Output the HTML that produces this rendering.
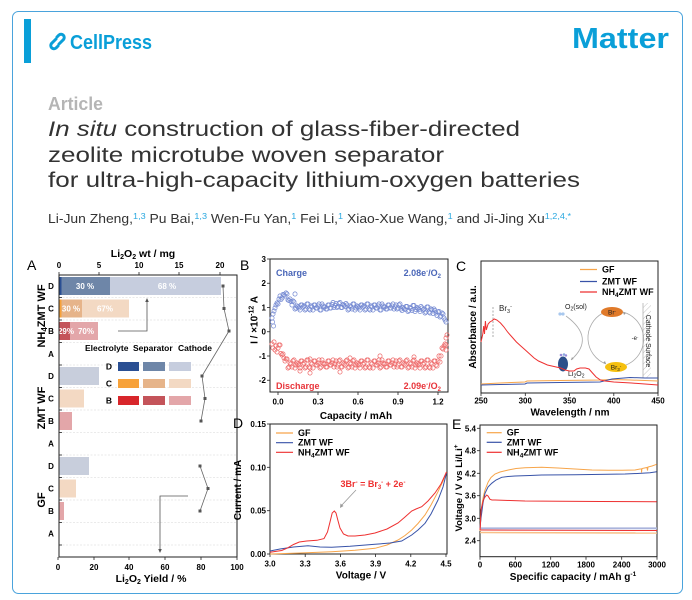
<!DOCTYPE html>
<html><head><meta charset="utf-8">
<style>
html,body{margin:0;padding:0;background:#fff;}
svg{display:block;}
text{font-family:"Liberation Sans",Arial,sans-serif;}
.b{font-weight:bold;}
</style></head><body>
<svg width="692" height="600" viewBox="0 0 692 600" xmlns="http://www.w3.org/2000/svg">
<defs>
<marker id="mb" markerWidth="6" markerHeight="6" refX="3" refY="3" markerUnits="userSpaceOnUse"><circle cx="3" cy="3" r="2.1" fill="none" stroke="#7489d2" stroke-width="0.7"/></marker>
<marker id="mr" markerWidth="6" markerHeight="6" refX="3" refY="3" markerUnits="userSpaceOnUse"><circle cx="3" cy="3" r="2.1" fill="none" stroke="#ee6b6b" stroke-width="0.7"/></marker>
<pattern id="hatch" width="4" height="4" patternUnits="userSpaceOnUse" patternTransform="rotate(45)"><line x1="0" y1="0" x2="0" y2="4" stroke="#999" stroke-width="0.6"/></pattern>
</defs>

<!-- frame & header -->
<rect x="12.5" y="11.5" width="670" height="582" rx="6" fill="none" stroke="#4aa3dc" stroke-width="1"/>
<rect x="24" y="19" width="7" height="44" fill="#0a9fd8"/>
<g fill="none" stroke="#0a9fd8" stroke-width="3" stroke-linecap="round">
<path d="M56 39 L51.5 43.5 A3.2 3.2 0 0 0 56 48 L58 46"/>
<path d="M59 44 L63.5 39.5 A3.2 3.2 0 0 0 59 35 L57 37"/>
</g>
<text x="70" y="49" font-size="20" class="b" fill="#0a9fd8" textLength="82" lengthAdjust="spacingAndGlyphs">CellPress</text>
<text x="572" y="48" font-size="29" class="b" fill="#0a9fd8" textLength="97" lengthAdjust="spacingAndGlyphs">Matter</text>

<text x="48" y="110" font-size="18" class="b" fill="#b5b5b5" textLength="55" lengthAdjust="spacingAndGlyphs">Article</text>
<text x="48" y="136" font-size="21" fill="#333" textLength="472" lengthAdjust="spacingAndGlyphs"><tspan font-style="italic">In situ</tspan> construction of glass-fiber-directed</text>
<text x="48" y="162" font-size="21" fill="#333" textLength="396" lengthAdjust="spacingAndGlyphs">zeolite microtube woven separator</text>
<text x="48" y="187" font-size="21" fill="#333" textLength="532" lengthAdjust="spacingAndGlyphs">for ultra-high-capacity lithium-oxygen batteries</text>
<text x="48" y="223" font-size="13" fill="#333" textLength="523" lengthAdjust="spacingAndGlyphs">Li-Jun Zheng,<tspan font-size="8.5" fill="#29a8e0" dy="-4">1,3</tspan><tspan dy="4"> Pu Bai,</tspan><tspan font-size="8.5" fill="#29a8e0" dy="-4">1,3</tspan><tspan dy="4"> Wen-Fu Yan,</tspan><tspan font-size="8.5" fill="#29a8e0" dy="-4">1</tspan><tspan dy="4"> Fei Li,</tspan><tspan font-size="8.5" fill="#29a8e0" dy="-4">1</tspan><tspan dy="4"> Xiao-Xue Wang,</tspan><tspan font-size="8.5" fill="#29a8e0" dy="-4">1</tspan><tspan dy="4"> and Ji-Jing Xu</tspan><tspan font-size="8.5" fill="#29a8e0" dy="-4">1,2,4,*</tspan></text>

<!-- ================= Panel A ================= -->
<text x="27" y="270" font-size="14">A</text>
<text x="143" y="257" font-size="10.5" class="b" text-anchor="middle">Li<tspan font-size="7" dy="2">2</tspan><tspan dy="-2">O</tspan><tspan font-size="7" dy="2">2</tspan><tspan dy="-2"> wt / mg</tspan></text>
<g font-size="8" class="b" text-anchor="middle">
<text x="59" y="268">0</text><text x="99" y="268">5</text><text x="139" y="268">10</text><text x="179" y="268">15</text><text x="220" y="268">20</text>
</g>
<g stroke="#d6d6d6" stroke-width="0.6" stroke-dasharray="2,1.5">
<line x1="59" y1="297.5" x2="237" y2="297.5"/><line x1="59" y1="320" x2="237" y2="320"/><line x1="59" y1="342.5" x2="237" y2="342.5"/><line x1="59" y1="365" x2="237" y2="365"/><line x1="59" y1="387.5" x2="237" y2="387.5"/><line x1="59" y1="410" x2="237" y2="410"/><line x1="59" y1="432.5" x2="237" y2="432.5"/><line x1="59" y1="455" x2="237" y2="455"/><line x1="59" y1="477.5" x2="237" y2="477.5"/><line x1="59" y1="500" x2="237" y2="500"/><line x1="59" y1="522.5" x2="237" y2="522.5"/><line x1="59" y1="545" x2="237" y2="545"/>
</g>
<rect x="59" y="277" width="2.5" height="18" fill="#2a4f93"/>
<rect x="61.5" y="277" width="48.5" height="18" fill="#6e86a8"/>
<rect x="110" y="277" width="111" height="18" fill="#c6cdde"/>
<rect x="59" y="299.5" width="2.5" height="18" fill="#f7a23a"/>
<rect x="61.5" y="299.5" width="20.5" height="18" fill="#e6b48a"/>
<rect x="82" y="299.5" width="47" height="18" fill="#f3d9c3"/>
<rect x="59" y="322" width="11" height="18" fill="#c4545a"/>
<rect x="70" y="322" width="28" height="18" fill="#e3a6a9"/>
<rect x="59" y="367" width="40" height="18" fill="#c8cedc"/>
<rect x="59" y="389.5" width="25" height="18" fill="#f3d9c3"/>
<rect x="59" y="412" width="13" height="18" fill="#e3a6a9"/>
<rect x="59" y="457" width="30" height="18" fill="#c8cedc"/>
<rect x="59" y="479.5" width="17" height="18" fill="#f3d9c3"/>
<rect x="59" y="502" width="5" height="18" fill="#e3a6a9"/>
<g font-size="8" class="b" fill="#fff" text-anchor="middle">
<text x="85" y="289">30 %</text><text x="167" y="289">68 %</text>
<text x="71" y="311.5">30 %</text><text x="105" y="311.5">67%</text>
<text x="66" y="334">29%</text><text x="86" y="334">70%</text>
</g>
<rect x="59" y="275" width="178" height="282" fill="none" stroke="#222" stroke-width="1"/>
<g stroke="#222" stroke-width="0.8">
<line x1="59" y1="272" x2="59" y2="275"/><line x1="99" y1="272" x2="99" y2="275"/><line x1="139" y1="272" x2="139" y2="275"/><line x1="179" y1="272" x2="179" y2="275"/><line x1="220" y1="272" x2="220" y2="275"/>
<line x1="58" y1="557" x2="58" y2="560"/><line x1="94" y1="557" x2="94" y2="560"/><line x1="129" y1="557" x2="129" y2="560"/><line x1="165" y1="557" x2="165" y2="560"/><line x1="201" y1="557" x2="201" y2="560"/><line x1="237" y1="557" x2="237" y2="560"/>
<line x1="59" y1="297.5" x2="62" y2="297.5"/><line x1="59" y1="320" x2="62" y2="320"/><line x1="59" y1="342.5" x2="62" y2="342.5"/><line x1="59" y1="365" x2="62" y2="365"/><line x1="59" y1="387.5" x2="62" y2="387.5"/><line x1="59" y1="410" x2="62" y2="410"/><line x1="59" y1="432.5" x2="62" y2="432.5"/><line x1="59" y1="455" x2="62" y2="455"/><line x1="59" y1="477.5" x2="62" y2="477.5"/><line x1="59" y1="500" x2="62" y2="500"/><line x1="59" y1="522.5" x2="62" y2="522.5"/><line x1="59" y1="545" x2="62" y2="545"/>
</g>
<g font-size="8" class="b" text-anchor="middle">
<text x="51" y="289">D</text><text x="51" y="311.5">C</text><text x="51" y="334">B</text><text x="51" y="357">A</text>
<text x="51" y="379">D</text><text x="51" y="401.5">C</text><text x="51" y="424">B</text><text x="51" y="446.5">A</text>
<text x="51" y="469">D</text><text x="51" y="491.5">C</text><text x="51" y="514">B</text><text x="51" y="536.5">A</text>
</g>
<g font-size="11" class="b" text-anchor="middle">
<text transform="translate(45,316) rotate(-90)">NH<tspan font-size="8" dy="2">4</tspan><tspan dy="-2">ZMT WF</tspan></text>
<text transform="translate(45,408) rotate(-90)">ZMT WF</text>
<text transform="translate(45,500) rotate(-90)">GF</text>
</g>
<g font-size="8" class="b" text-anchor="middle">
<text x="58" y="570">0</text><text x="94" y="570">20</text><text x="129" y="570">40</text><text x="165" y="570">60</text><text x="201" y="570">80</text><text x="237" y="570">100</text>
</g>
<text x="151" y="582" font-size="10.5" class="b" text-anchor="middle">Li<tspan font-size="7" dy="2">2</tspan><tspan dy="-2">O</tspan><tspan font-size="7" dy="2">2</tspan><tspan dy="-2"> Yield / %</tspan></text>
<g font-size="8.5" class="b">
<text x="85" y="351">Electrolyte</text><text x="133" y="351">Separator</text><text x="178" y="351">Cathode</text>
<text x="109" y="369.5" text-anchor="middle">D</text><text x="109" y="386.5" text-anchor="middle">C</text><text x="109" y="403.5" text-anchor="middle">B</text>
</g>
<rect x="118" y="362" width="21" height="9" fill="#2a4f93"/><rect x="143" y="362" width="22" height="9" fill="#6e86a8"/><rect x="169" y="362" width="22" height="9" fill="#c6cdde"/>
<rect x="118" y="379" width="21" height="9" fill="#f7a23a"/><rect x="143" y="379" width="22" height="9" fill="#e6b48a"/><rect x="169" y="379" width="22" height="9" fill="#f3d9c3"/>
<rect x="118" y="396" width="21" height="9" fill="#d8262b"/><rect x="143" y="396" width="22" height="9" fill="#c4545a"/><rect x="169" y="396" width="22" height="9" fill="#e3a6a9"/>
<g fill="none" stroke="#555" stroke-width="0.8">
<polyline points="118,331 147,331 147,301"/>
<polyline points="188,496 160,496 160,550"/>
</g>
<path d="M147 298 l-1.8 4 h3.6z" fill="#555"/>
<path d="M160 553 l-1.8 -4 h3.6z" fill="#555"/>
<g fill="none" stroke="#666" stroke-width="0.8">
<polyline points="223,286 224,308.5 229,331 202,376 205,398.5 201,421"/>
<polyline points="200,466 208,488.5 200,511"/>
</g>
<g fill="#555">
<rect x="221.5" y="284.5" width="3" height="3"/><rect x="222.5" y="307" width="3" height="3"/><rect x="227.5" y="329.5" width="3" height="3"/>
<rect x="200.5" y="374.5" width="3" height="3"/><rect x="203.5" y="397" width="3" height="3"/><rect x="199.5" y="419.5" width="3" height="3"/>
<rect x="198.5" y="464.5" width="3" height="3"/><rect x="206.5" y="487" width="3" height="3"/><rect x="198.5" y="509.5" width="3" height="3"/>
</g>

<!-- ================= Panel B ================= -->
<text x="240" y="270" font-size="14">B</text>
<rect x="270" y="259" width="178" height="133" fill="none" stroke="#222" stroke-width="1"/>
<g stroke="#222" stroke-width="0.8">
<line x1="267" y1="259" x2="270" y2="259"/><line x1="267" y1="283.25" x2="270" y2="283.25"/><line x1="267" y1="307.5" x2="270" y2="307.5"/><line x1="267" y1="331.75" x2="270" y2="331.75"/><line x1="267" y1="356" x2="270" y2="356"/><line x1="267" y1="380.25" x2="270" y2="380.25"/>
<line x1="278" y1="392" x2="278" y2="395"/><line x1="318" y1="392" x2="318" y2="395"/><line x1="358" y1="392" x2="358" y2="395"/><line x1="398" y1="392" x2="398" y2="395"/><line x1="438" y1="392" x2="438" y2="395"/>
</g>
<g font-size="8" class="b" text-anchor="end">
<text x="266" y="262">3</text><text x="266" y="286">2</text><text x="266" y="310.5">1</text><text x="266" y="334.5">0</text><text x="266" y="359">-1</text><text x="266" y="383">-2</text>
</g>
<g font-size="8" class="b" text-anchor="middle">
<text x="278" y="404.5">0.0</text><text x="318" y="404.5">0.3</text><text x="358" y="404.5">0.6</text><text x="398" y="404.5">0.9</text><text x="438" y="404.5">1.2</text>
</g>
<text x="356" y="419" font-size="10" class="b" text-anchor="middle">Capacity / mAh</text>
<text transform="translate(257.5,320) rotate(-90)" font-size="10" class="b" text-anchor="middle">I / ×10<tspan font-size="7" dy="-4">-12</tspan><tspan dy="4"> A</tspan></text>
<g fill="none" stroke="none">
<polyline marker-start="url(#mb)" marker-mid="url(#mb)" marker-end="url(#mb)" points="278,304 280,296 282,298 284,295 286,293 288,300 290,299 292,305 294,302 296,308 298,307 300,310 302,305 304,306 306,309 308,304 310,310 312,307 314,305 316,308 318,306 320,310 322,304 324,307 326,309 328,305 330,308 332,304.5 334,307.5 336,303.5 338,306.5 340,302.5 342,307.5 344,305.5 346,303.5 348,310 350,306 352,309 354,304 356,308 358,307 360,310 362,305 364,306 366,309 368,304 370,310 372,307 374,305 376,308 378,306 380,310 382,304 384,307 386,309 388,305 390,308 392,306 394,309 396,305 398,308 400,304 402,310.5 404,308.5 406,306.5 408,311.5 410,307.5 412,310.5 414,305.5 416,309.5 418,308.5 420,311.5 422,308 424,309 426,312 428,307 430,313 432,310 434,309 436,313 438,312 440,317 442,313 444,318 446,322"/>
<polyline marker-start="url(#mb)" marker-mid="url(#mb)" marker-end="url(#mb)" points="279,299 281,299.5 283,294.5 285,296 287,294 289,300.5 291,301.5 293,301 295,309 297,306 299,308 301,305 303,307 305,310 307,304 309,309 311,306 313,310 315,305 317,308 319,304 321,310 323,306 325,307 327,309 329,305 331,308 333,302.5 335,305.5 337,307.5 339,303.5 341,307.5 343,304.5 345,306.5 347,305 349,309 351,307 353,304 355,310 357,306 359,308 361,305 363,307 365,310 367,304 369,309 371,306 373,310 375,305 377,308 379,304 381,310 383,306 385,307 387,309 389,305 391,308 393,304 395,307 397,309 399,305 401,309 403,307.5 405,309.5 407,306.5 409,310.5 411,308.5 413,305.5 415,311.5 417,307.5 419,309.5 421,306.5 423,310 425,313 427,307 429,312 431,309 433,313.5 435,310.5 437,315.5 439,311.5 441,316 443,314 445,320"/>
<polyline marker-start="url(#mb)" marker-mid="url(#mb)" marker-end="url(#mb)" points="272,318 272.5,322 273,314 273.5,326 274,311 275,308 276,305 277,303 295,294"/>
<polyline marker-start="url(#mr)" marker-mid="url(#mr)" marker-end="url(#mr)" points="278,348 280,345 282,355 284,358 286,359 288,368 290,363 292,367 294,360 296,365 298,364 300,368 302,361 304,363 306,367 308,360 310,368 312,364 314,361 316,365 318,363 320,368 322,360 324,364 326,367 328,361 330,365 332,363 334,367 336,361 338,365 340,360 342,367 344,364 346,361 348,368 350,363 352,367 354,360 356,365 358,364 360,368 362,361 364,363 366,367 368,360 370,368 372,364 374,361 376,365 378,363 380,368 382,360 384,364 386,367 388,361 390,365 392,363 394,367 396,361 398,365 400,360 402,367 404,364 406,361 408,368 410,363 412,367 414,360 416,365 418,364 420,368 422,361 424,363 426,367 428,360 430,368 432,364 434,361 436,365 438,361 440,362 442,348 444,346 446,345"/>
<polyline marker-start="url(#mr)" marker-mid="url(#mr)" marker-end="url(#mr)" points="279,345 281,353.5 283,354 285,361 287,359 289,367 291,364 293,361 295,368 297,363 299,365 301,361 303,364 305,368 307,360 309,367 311,363 313,368 315,361 317,365 319,360 321,367 323,363 325,364 327,367 329,361 331,365 333,360 335,364 337,367 339,361 341,367 343,363 345,365 347,360 349,367 351,364 353,361 355,368 357,363 359,365 361,361 363,364 365,368 367,360 369,367 371,363 373,368 375,361 377,365 379,360 381,367 383,363 385,364 387,367 389,361 391,365 393,360 395,364 397,367 399,361 401,367 403,363 405,365 407,360 409,367 411,364 413,361 415,368 417,363 419,365 421,361 423,364 425,368 427,360 429,367 431,363 433,368 435,361 437,366 439,356 441,356 443,349 445,344"/>
<polyline marker-start="url(#mr)" marker-mid="url(#mr)" marker-end="url(#mr)" points="272,344 273,348 274,342 275,350 276,346 277,352 300,371 310,373 340,372 380,356 414,357 446,338 447,335 446,350 310,359 350,358"/>
</g>
<g font-size="9" class="b">
<text x="276" y="276" fill="#4a66b8">Charge</text>
<text x="441" y="276" fill="#4a66b8" text-anchor="end">2.08e<tspan font-size="6" dy="-3">-</tspan><tspan dy="3">/O</tspan><tspan font-size="6" dy="2">2</tspan></text>
<text x="276" y="389" fill="#e8343a">Discharge</text>
<text x="441" y="389" fill="#e8343a" text-anchor="end">2.09e<tspan font-size="6" dy="-3">-</tspan><tspan dy="3">/O</tspan><tspan font-size="6" dy="2">2</tspan></text>
</g>

<!-- ================= Panel C ================= -->
<text x="456" y="271" font-size="14">C</text>
<rect x="481" y="261" width="177" height="132" fill="none" stroke="#222" stroke-width="1"/>
<g stroke="#222" stroke-width="0.8">
<line x1="481" y1="393" x2="481" y2="396"/><line x1="525.3" y1="393" x2="525.3" y2="396"/><line x1="569.5" y1="393" x2="569.5" y2="396"/><line x1="613.8" y1="393" x2="613.8" y2="396"/><line x1="658" y1="393" x2="658" y2="396"/>
</g>
<g font-size="8" class="b" text-anchor="middle">
<text x="481" y="403.5">250</text><text x="525.3" y="403.5">300</text><text x="569.5" y="403.5">350</text><text x="613.8" y="403.5">400</text><text x="658" y="403.5">450</text>
</g>
<text x="570" y="415.5" font-size="10" class="b" text-anchor="middle">Wavelength / nm</text>
<text transform="translate(476,327) rotate(-90)" font-size="10" class="b" text-anchor="middle">Absorbance / a.u.</text>
<line x1="493" y1="307" x2="493" y2="337" stroke="#888" stroke-width="0.7" stroke-dasharray="2,1.5"/>
<text x="499" y="311" font-size="8" fill="#222">Br<tspan font-size="5.5" dy="2">3</tspan><tspan font-size="5.5" dy="-5">-</tspan></text>
<g fill="none" stroke="#aaa" stroke-width="0.8">
<path d="M603 313 A28 28 0 0 0 606 364"/>
<path d="M626 365 A28 28 0 0 0 623 312"/>
<path d="M566 316 Q596 338 571 360"/>
</g>
<path d="M606 364 l-3 -1 l2 -2z M623 312 l3 1 l-2 2z M571 360 l1 -3 l1.5 2z" fill="#999"/>
<rect x="643" y="303" width="8" height="75" fill="url(#hatch)"/>
<line x1="643" y1="303" x2="643" y2="378" stroke="#999" stroke-width="0.6"/>
<text transform="translate(646,341) rotate(90)" font-size="7" text-anchor="middle" fill="#222">Cathode Surface</text>
<ellipse cx="612" cy="312" rx="11" ry="5" fill="#e07a2a"/>
<text x="612" y="314.5" font-size="6.5" text-anchor="middle" fill="#222">Br<tspan font-size="4.5" dy="-2">-</tspan></text>
<ellipse cx="616" cy="367" rx="11" ry="5" fill="#f5c010"/>
<text x="616" y="369.5" font-size="6.5" text-anchor="middle" fill="#222">Br<tspan font-size="4.5" dy="1.5">3</tspan><tspan font-size="4.5" dy="-3.5">-</tspan></text>
<text x="635" y="340" font-size="6" text-anchor="middle" fill="#222">-e<tspan font-size="4" dy="-2">-</tspan></text>
<ellipse cx="563" cy="364" rx="5" ry="7.5" fill="#2c4f8a"/>
<circle cx="561" cy="355" r="1.3" fill="#9a8ad8"/><circle cx="564" cy="354.5" r="1.3" fill="#8aa8e0"/><circle cx="566" cy="355.5" r="1.2" fill="#9a8ad8"/>
<circle cx="560" cy="314" r="1.6" fill="#a8c8ee"/><circle cx="563" cy="314" r="1.6" fill="#a8c8ee"/>
<text x="565" y="309" font-size="7" fill="#222">O<tspan font-size="5" dy="1.5">2</tspan><tspan dy="-1.5">(sol)</tspan></text>
<text x="568" y="376" font-size="7" fill="#222">Li<tspan font-size="5" dy="1.5">2</tspan><tspan dy="-1.5">O</tspan><tspan font-size="5" dy="1.5">2</tspan></text>
<g fill="none" stroke-width="1">
<polyline stroke="#f7a54a" points="481,384 500,383 525,382 527,381 560,380.5 600,380 612,379.5 630,380 658,381"/>
<polyline stroke="#3853a8" points="481,385 500,384.5 525,384 527,383 560,382.5 600,382 612,379 630,377.5 645,378 658,378"/>
<polyline stroke="#ee3030" points="481,342 481.9,338 482.8,334 483.7,326 484.5,334 485.4,321 486.3,330 487.2,327 488.1,324 489.9,322 491.6,321 494.3,319 496.9,320 500.5,323 504,327 507.6,332 512,337 516.4,342 520.8,346 525.3,350 529.7,354 534.1,358 538.5,361 543,363 547.4,365 551.8,366 556.2,367 560.7,368 565.1,370 569.5,371 573.9,371 576.6,369 580.1,368 585.4,368 589,369 592.5,373 596.1,377 600.5,380 604.9,381 613.8,382 631.5,383 658,385"/>
</g>
<g stroke-width="1.2">
<line x1="580" y1="269.5" x2="597" y2="269.5" stroke="#f7a54a"/>
<line x1="580" y1="281.5" x2="597" y2="281.5" stroke="#3853a8"/>
<line x1="580" y1="292" x2="597" y2="292" stroke="#ee3030"/>
</g>
<g font-size="9" class="b">
<text x="602" y="272.5">GF</text>
<text x="602" y="284.5">ZMT WF</text>
<text x="602" y="295">NH<tspan font-size="6.5" dy="2">4</tspan><tspan dy="-2">ZMT WF</tspan></text>
</g>

<!-- ================= Panel D ================= -->
<text x="233" y="428" font-size="14">D</text>
<rect x="270" y="424" width="177" height="130" fill="none" stroke="#222" stroke-width="1"/>
<g stroke="#222" stroke-width="0.8">
<line x1="267" y1="424" x2="270" y2="424"/><line x1="267" y1="467.3" x2="270" y2="467.3"/><line x1="267" y1="510.7" x2="270" y2="510.7"/><line x1="267" y1="554" x2="270" y2="554"/>
<line x1="270" y1="554" x2="270" y2="557"/><line x1="305.2" y1="554" x2="305.2" y2="557"/><line x1="340.4" y1="554" x2="340.4" y2="557"/><line x1="375.6" y1="554" x2="375.6" y2="557"/><line x1="410.8" y1="554" x2="410.8" y2="557"/><line x1="446" y1="554" x2="446" y2="557"/>
</g>
<g font-size="8" class="b" text-anchor="end">
<text x="266" y="427">0.15</text><text x="266" y="470.3">0.10</text><text x="266" y="513.7">0.05</text><text x="266" y="557">0.00</text>
</g>
<g font-size="8" class="b" text-anchor="middle">
<text x="270" y="566.5">3.0</text><text x="305.2" y="566.5">3.3</text><text x="340.4" y="566.5">3.6</text><text x="375.6" y="566.5">3.9</text><text x="410.8" y="566.5">4.2</text><text x="446" y="566.5">4.5</text>
</g>
<text x="361" y="578.5" font-size="10" class="b" text-anchor="middle">Voltage / V</text>
<text transform="translate(241,490) rotate(-90)" font-size="10" class="b" text-anchor="middle">Current / mA</text>
<g fill="none" stroke-width="1">
<polyline stroke="#f7a54a" points="270,554 300,553 331.7,551.7 355,550.3 375,548.3 387,545 398,540 405,535.5 411.7,530 418,523.5 425,515 431,505 438,491.7 443,481 446.5,472"/>
<polyline stroke="#3853a8" points="270,551 280,549 293.5,547 308,545.7 320,547 331.7,547.3 350,546.3 375,544.3 390,543 401.7,541 411.7,535 418,530 425,523.3 431,514 438,500 443,487 446.5,473"/>
<polyline stroke="#ee3030" points="270,552.3 281.7,550.5 287.6,547.9 293.5,544.5 299.3,542 306.7,541 316.9,540.3 324,538.6 327.5,532 330,522 332.2,513 334.3,511 336,513 337.8,520 340,528 343.5,534 348,536 355,536 365,535 375,533 387,529 398,523 405,517 411.7,511 416,509 421.7,506.7 428,501 435,493 441,484 446.5,472"/>
</g>
<g stroke-width="1.2">
<line x1="276" y1="433" x2="293" y2="433" stroke="#f7a54a"/>
<line x1="276" y1="442.7" x2="293" y2="442.7" stroke="#3853a8"/>
<line x1="276" y1="452.3" x2="293" y2="452.3" stroke="#ee3030"/>
</g>
<g font-size="9" class="b">
<text x="298" y="436">GF</text>
<text x="298" y="445.7">ZMT WF</text>
<text x="298" y="455.3">NH<tspan font-size="6.5" dy="2">4</tspan><tspan dy="-2">ZMT WF</tspan></text>
</g>
<text x="373" y="487" font-size="9" class="b" fill="#ee3030" text-anchor="middle">3Br<tspan font-size="6" dy="-3">-</tspan><tspan dy="3"> = Br</tspan><tspan font-size="6" dy="2">3</tspan><tspan font-size="6" dy="-5">-</tspan><tspan dy="3"> + 2e</tspan><tspan font-size="6" dy="-3">-</tspan></text>
<line x1="356" y1="490" x2="341" y2="506" stroke="#999" stroke-width="0.8"/>
<path d="M340 508 l0.5 -4.5 l3 2.5z" fill="#999"/>

<!-- ================= Panel E ================= -->
<text x="452" y="429" font-size="14">E</text>
<rect x="480" y="425" width="177" height="131.7" fill="none" stroke="#222" stroke-width="1"/>
<g stroke="#222" stroke-width="0.8">
<line x1="477" y1="428.3" x2="480" y2="428.3"/><line x1="477" y1="450.7" x2="480" y2="450.7"/><line x1="477" y1="473.3" x2="480" y2="473.3"/><line x1="477" y1="495.7" x2="480" y2="495.7"/><line x1="477" y1="518.3" x2="480" y2="518.3"/><line x1="477" y1="540.7" x2="480" y2="540.7"/>
<line x1="480" y1="556.7" x2="480" y2="559.7"/><line x1="515.3" y1="556.7" x2="515.3" y2="559.7"/><line x1="550.7" y1="556.7" x2="550.7" y2="559.7"/><line x1="586" y1="556.7" x2="586" y2="559.7"/><line x1="621.7" y1="556.7" x2="621.7" y2="559.7"/><line x1="657" y1="556.7" x2="657" y2="559.7"/>
</g>
<g font-size="8" class="b" text-anchor="end">
<text x="476" y="431.3">5.4</text><text x="476" y="453.7">4.8</text><text x="476" y="476.3">4.2</text><text x="476" y="498.7">3.6</text><text x="476" y="521.3">3.0</text><text x="476" y="543.7">2.4</text>
</g>
<g font-size="8" class="b" text-anchor="middle">
<text x="480" y="567.5">0</text><text x="515.3" y="567.5">600</text><text x="550.7" y="567.5">1200</text><text x="586" y="567.5">1800</text><text x="621.7" y="567.5">2400</text><text x="657" y="567.5">3000</text>
</g>
<text x="573" y="580" font-size="10" class="b" text-anchor="middle">Specific capacity / mAh g<tspan font-size="6.5" dy="-4">-1</tspan></text>
<text transform="translate(462,488) rotate(-90)" font-size="9.5" class="b" text-anchor="middle">Voltage / V vs Li/Li<tspan font-size="6.5" dy="-4">+</tspan></text>
<g fill="none">
<line x1="480" y1="532.5" x2="657" y2="533" stroke="#f8c088" stroke-width="1.5"/>
<line x1="480" y1="528.3" x2="657" y2="528.3" stroke="#aab4dc" stroke-width="1.8"/>
<line x1="480" y1="530" x2="657" y2="530.5" stroke="#ee3030" stroke-width="1"/>
<polyline stroke="#f7a54a" stroke-width="1" points="480,531 481,515 482,505 483.3,496.7 485,490 488.3,481.7 491,477.5 495,474 500,472 508.3,470 516,468.5 525,467.7 541.7,467.3 558,468 575,469 592,470 608.3,470.3 622,470.3 635,470 640,469 641.5,469 641.5,472.5 642,468.5 647,467.5 647.5,470.5 648,467 652,466 656.7,464.3"/>
<polyline stroke="#3853a8" stroke-width="1" points="480,528 481,518 481.7,513 483,503 485,493.3 488,487 491.7,483.3 496,480 501.7,477.3 508,476.5 515,476 530,475.5 541.7,475 575,474.7 608.3,474.3 625,474 641.7,473.3 650,472.8 656.7,471.7"/>
<polyline stroke="#ee3030" stroke-width="1" points="480,530 480.3,526.7 481,510 483.3,500 485,497 486.7,495 488,496 490,499.3 492,500 495,500 510,500.5 525,501 560,501.3 600,501.5 656.7,501.7"/>
</g>
<g stroke-width="1.2">
<line x1="486.7" y1="432.7" x2="501.7" y2="432.7" stroke="#f7a54a"/>
<line x1="486.7" y1="442.3" x2="501.7" y2="442.3" stroke="#3853a8"/>
<line x1="486.7" y1="452.3" x2="501.7" y2="452.3" stroke="#ee3030"/>
</g>
<g font-size="9" class="b">
<text x="506.7" y="435.7">GF</text>
<text x="506.7" y="445.3">ZMT WF</text>
<text x="506.7" y="455.3">NH<tspan font-size="6.5" dy="2">4</tspan><tspan dy="-2">ZMT WF</tspan></text>
</g>
</svg>
</body></html>
